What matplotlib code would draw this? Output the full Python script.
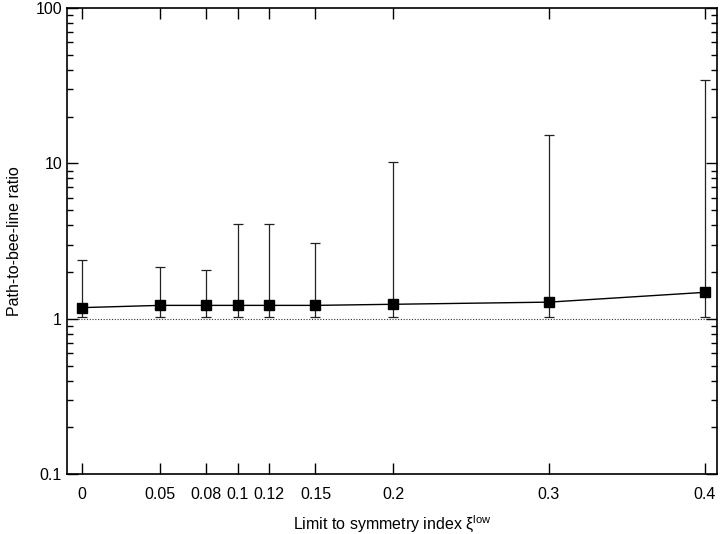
import matplotlib.pyplot as plt
import numpy as np

plt.rcParams['font.family'] = ['Liberation Sans', 'DejaVu Sans']
plt.rcParams['mathtext.fontset'] = 'custom'
plt.rcParams['mathtext.rm'] = 'Liberation Sans'

# Data
xi_low = [0, 0.05, 0.08, 0.1, 0.12, 0.15, 0.2, 0.3, 0.4]
ratio = [1.18, 1.22, 1.22, 1.22, 1.22, 1.22, 1.24, 1.28, 1.48]
ratio_low = [1.03, 1.02, 1.02, 1.02, 1.02, 1.02, 1.03, 1.03, 1.02]
ratio_high = [2.4, 2.14, 2.07, 4.05, 4.05, 3.06, 10.2, 15.2, 34.5]
xtick_labels = ['0', '0.05', '0.08', '0.1', '0.12', '0.15', '0.2', '0.3', '0.4']

ratio = np.array(ratio)
yerr = [ratio - np.array(ratio_low), np.array(ratio_high) - ratio]

fig = plt.figure(figsize=(7.2, 5.34), dpi=100)
ax = fig.add_axes([0.093, 0.112, 0.903, 0.873])

ax.axhline(1, color='#333333', linestyle=(0, (1, 1.5)), linewidth=0.8, zorder=1)
ax.errorbar(xi_low, ratio, yerr=yerr, fmt='s-', color='black', ecolor='#222222',
            elinewidth=0.9, capsize=3.5, capthick=0.9, markersize=7,
            linewidth=1.0, zorder=3)

ax.set_yscale('log')
ax.set_ylim(0.1, 100)
ax.set_xlim(-0.0096, 0.408)
ax.set_xticks(xi_low)
ax.set_xticklabels(xtick_labels)
ax.set_yticks([0.1, 1, 10, 100])
ax.set_yticklabels(['0.1', '1', '10', '100'])

ax.tick_params(which='both', direction='in', top=True, right=True, labelsize=11.5)
ax.tick_params(which='major', length=8, width=1)
ax.tick_params(which='minor', length=4, width=1)
ax.tick_params(axis='x', which='minor', top=False, bottom=False)
ax.tick_params(axis='x', pad=9)
for s in ax.spines.values():
    s.set_linewidth(1.2)

ax.set_ylabel('Path-to-bee-line ratio', fontsize=11.5, labelpad=10)
ax.set_xlabel('Limit to symmetry index ξ$^{\\mathrm{low}}$', fontsize=11.5, labelpad=8)

fig.savefig('out.png', dpi=100)
